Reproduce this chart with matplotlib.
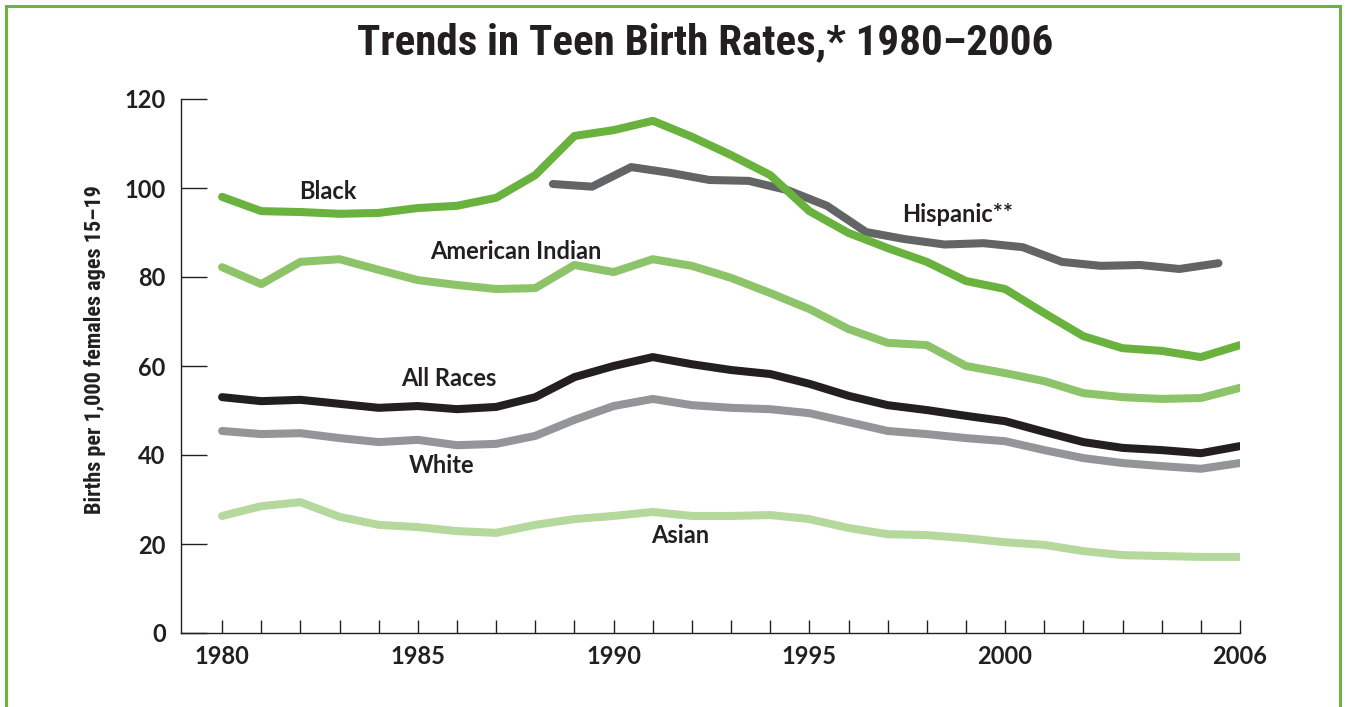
import matplotlib.pyplot as plt
from matplotlib.patches import Rectangle

years = list(range(1980, 2007))

black = [98.0, 94.8, 94.6, 94.2, 94.4, 95.5, 96.0, 97.8, 102.9, 111.7, 113.0, 115.1, 111.5,
         107.4, 102.9, 94.8, 89.9, 86.5, 83.4, 79.1, 77.3, 71.9, 66.7, 64.0, 63.4, 62.0, 64.7]
american_indian = [82.2, 78.4, 83.4, 84.0, 81.6, 79.3, 78.2, 77.3, 77.5, 82.7, 81.1, 84.0, 82.5,
                   79.8, 76.4, 72.8, 68.3, 65.2, 64.7, 60.0, 58.4, 56.6, 53.9, 53.0, 52.6, 52.8, 55.1]
all_races = [53.0, 52.1, 52.4, 51.5, 50.6, 51.0, 50.3, 50.8, 53.0, 57.5, 60.0, 62.0, 60.4,
             59.1, 58.2, 56.0, 53.3, 51.2, 50.1, 48.8, 47.6, 45.2, 42.9, 41.6, 41.1, 40.4, 42.0]
white = [45.4, 44.7, 44.9, 43.8, 42.9, 43.4, 42.2, 42.5, 44.3, 47.9, 51.0, 52.6, 51.2,
         50.6, 50.3, 49.4, 47.4, 45.4, 44.7, 43.8, 43.1, 41.1, 39.3, 38.2, 37.5, 36.9, 38.2]
asian = [26.3, 28.5, 29.4, 26.1, 24.3, 23.8, 22.9, 22.5, 24.3, 25.6, 26.3, 27.2, 26.3,
         26.3, 26.5, 25.6, 23.6, 22.2, 22.0, 21.3, 20.4, 19.8, 18.4, 17.5, 17.3, 17.1, 17.1]

# Hispanic series is drawn a bit more than half a year to the left in the original
hisp_years = list(range(1989, 2007))
hispanic = [100.9, 100.3, 104.7, 103.4, 101.8, 101.6, 99.5, 96.0, 90.1, 88.5, 87.3,
            87.6, 86.7, 83.4, 82.5, 82.7, 81.8, 83.1]
hisp_shift = -0.55

tick_labels = {1980: "1980", 1985: "1985", 1990: "1990", 1995: "1995", 2000: "2000", 2006: "2006"}

ink = "#231f20"
font = ["Lato", "DejaVu Sans"]
narrow = ["Liberation Sans Narrow", "Roboto Condensed", "DejaVu Sans"]

fig = plt.figure(figsize=(13.48, 7.07), dpi=100)
ax = fig.add_axes([181 / 1348, 1 - 633 / 707, (1240 - 181) / 1348, (633 - 99) / 707])

lw = 5.8
ax.plot([y + hisp_shift for y in hisp_years], hispanic, color="#636466", lw=lw, solid_capstyle="round", solid_joinstyle="round")
ax.plot(years, black, color="#6ab23e", lw=lw, solid_capstyle="round", solid_joinstyle="round")
ax.plot(years, american_indian, color="#8dc46a", lw=lw, solid_capstyle="round", solid_joinstyle="round")
ax.plot(years, white, color="#939598", lw=lw, solid_capstyle="round", solid_joinstyle="round")
ax.plot(years, all_races, color=ink, lw=lw, solid_capstyle="round", solid_joinstyle="round")
ax.plot(years, asian, color="#b5d89c", lw=lw, solid_capstyle="round", solid_joinstyle="round")

lab = dict(fontsize=17, fontweight="bold", color=ink, family=font, ha="center", va="center")
ax.text(1982.7, 99.2, "Black", **lab)
ax.text(1987.5, 85.7, "American Indian", **lab)
ax.text(1985.8, 57.2, "All Races", **lab)
ax.text(1985.6, 37.7, "White", **lab)
ax.text(1991.7, 22.0, "Asian", **lab)
ax.text(1998.8, 94.1, "Hispanic**", **lab)

ax.set_xlim(1978.95, 2006)
ax.set_ylim(0, 120)
ax.set_yticks(range(0, 121, 20))
ax.set_xticks(years)
ax.set_xticklabels([tick_labels.get(y, "") for y in years])

for s in ["top", "right"]:
    ax.spines[s].set_visible(False)
for s in ["left", "bottom"]:
    ax.spines[s].set_color(ink)
    ax.spines[s].set_linewidth(1.0)

ax.tick_params(axis="y", direction="in", length=19, width=1.0, color=ink, pad=11)
ax.tick_params(axis="x", direction="in", length=9.5, width=1.0, color=ink, pad=9)
for t in ax.get_xticklabels() + ax.get_yticklabels():
    t.set_fontsize(17)
    t.set_fontweight("bold")
    t.set_family(font)
    t.set_color(ink)

ax.set_ylabel("Births per 1,000 females ages 15\u201319", fontsize=16, fontweight="bold",
              family=narrow, color=ink)
ax.yaxis.set_label_coords(-0.071, 0.53)

fig.text(705 / 1348, 1 - 43 / 707, "Trends in Teen Birth Rates,* 1980\u20132006", fontsize=31,
         fontweight="bold", family=narrow, color=ink, ha="center", va="center")

fig.patches.append(Rectangle((6 / 1348, -0.05), (1340 - 6) / 1348, 1.05 - 6 / 707,
                             transform=fig.transFigure, fill=False, edgecolor="#6cb33f", lw=2.2))

fig.savefig("out.png", dpi=100)
